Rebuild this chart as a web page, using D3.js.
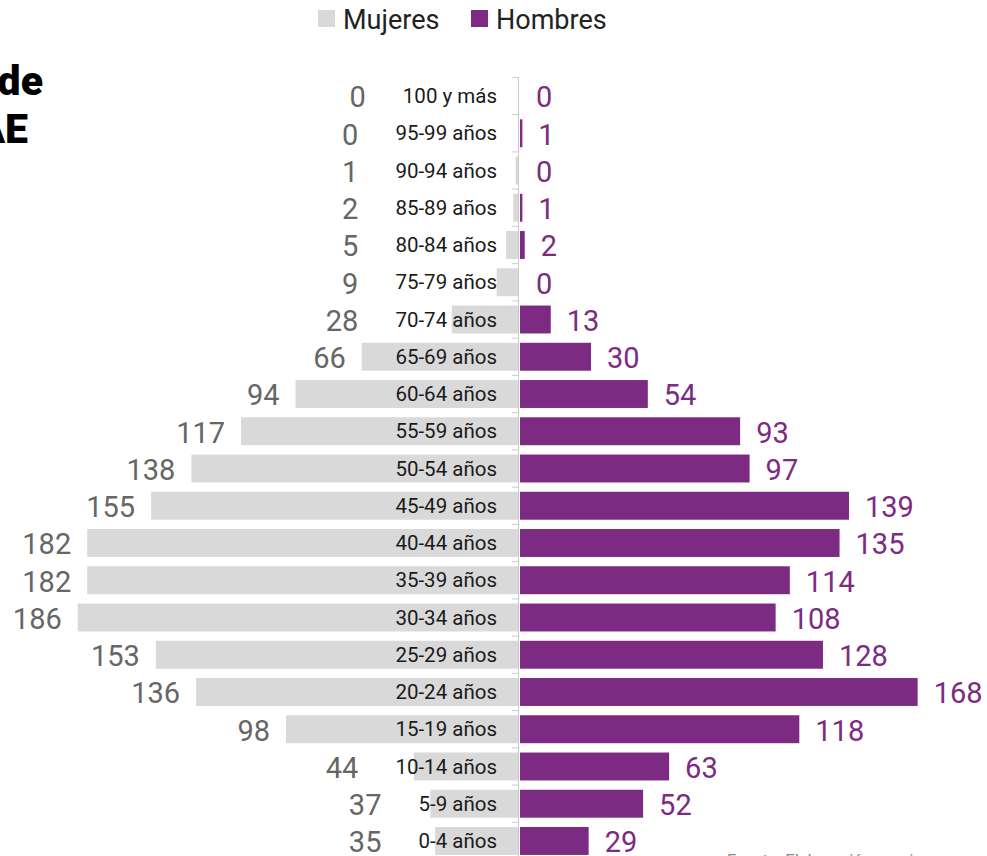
<!DOCTYPE html>
<html>
<head>
<meta charset="utf-8">
<script src="https://cdn.jsdelivr.net/npm/d3@7"></script>
<style>
  body { margin: 0; background: #fff; overflow: hidden; }
  svg { display: block; font-family: Roboto, "Noto Sans", sans-serif; }
</style>
</head>
<body>
<div id="chart"></div>
<script>
// Data
const ages = ["100 y más", "95-99 años", "90-94 años", "85-89 años", "80-84 años",
  "75-79 años", "70-74 años", "65-69 años", "60-64 años", "55-59 años", "50-54 años",
  "45-49 años", "40-44 años", "35-39 años", "30-34 años", "25-29 años", "20-24 años",
  "15-19 años", "10-14 años", "5-9 años", "0-4 años"];
const mujeres = [0, 0, 1, 2, 5, 9, 28, 66, 94, 117, 138, 155, 182, 182, 186, 153, 136, 98, 44, 37, 35];
const hombres = [0, 1, 0, 1, 2, 0, 13, 30, 54, 93, 97, 139, 135, 114, 108, 128, 168, 118, 63, 52, 29];
const series = ["Mujeres", "Hombres"];
const titleLines = ["de", "AE"];

const width = 987, height = 856;
const grey = "#d9d9d9", purple = "#7d2b82";

const svg = d3.select("#chart").append("svg")
  .attr("width", width)
  .attr("height", height);

// Scales
const y = d3.scaleBand()
  .domain(ages)
  .range([77.4, 859.6])
  .paddingInner(0.25)
  .paddingOuter(0.125);

const xF = d3.scaleLinear().domain([0, 200]).range([518, 518 - 473.4]);
const xM = d3.scaleLinear().domain([0, 200]).range([520, 520 + 473.4]);

// Title (cut off at the left edge)
svg.append("g")
  .attr("font-weight", 900)
  .attr("font-size", 41)
  .attr("fill", "#000")
  .attr("text-anchor", "end")
  .selectAll("text")
  .data(titleLines)
  .join("text")
  .attr("x", (d, i) => i === 0 ? 43 : 28)
  .attr("y", (d, i) => 95 + i * 48)
  .text(d => d);

// Legend
const legend = svg.append("g");
const legendX = [318, 471];
series.forEach((s, i) => {
  legend.append("rect")
    .attr("x", legendX[i]).attr("y", 10)
    .attr("width", 17).attr("height", 17)
    .attr("fill", i === 0 ? grey : purple);
  legend.append("text")
    .attr("x", legendX[i] + 25).attr("y", 29)
    .attr("font-size", 27)
    .attr("fill", "#222")
    .text(s);
});

// Female bars
svg.append("g").selectAll("rect")
  .data(ages)
  .join("rect")
  .attr("x", (d, i) => xF(mujeres[i]))
  .attr("y", d => y(d))
  .attr("width", (d, i) => xF(0) - xF(mujeres[i]))
  .attr("height", y.bandwidth())
  .attr("fill", grey);

// Male bars
svg.append("g").selectAll("rect")
  .data(ages)
  .join("rect")
  .attr("x", xM(0))
  .attr("y", d => y(d))
  .attr("width", (d, i) => xM(hombres[i]) - xM(0))
  .attr("height", y.bandwidth())
  .attr("fill", purple);

// Axis line with ticks at band boundaries
const axis = svg.append("g").attr("stroke", "#cccccc").attr("fill", "none");
const step = y.step();
const boundary = d => y(d) - step * y.paddingInner() / 2;
axis.append("line")
  .attr("x1", 518.5).attr("x2", 518.5)
  .attr("y1", boundary(ages[0])).attr("y2", height);
axis.selectAll(".tick")
  .data(ages)
  .join("line")
  .attr("class", "tick")
  .attr("x1", 512).attr("x2", 518.5)
  .attr("y1", boundary)
  .attr("y2", boundary);

// Category labels
const catLabels = svg.append("g")
  .attr("font-size", 20.5)
  .attr("fill", "#1a1a1a")
  .attr("text-anchor", "end")
  .selectAll("text")
  .data(ages)
  .join("text")
  .attr("x", 497)
  .attr("y", d => y(d) + y.bandwidth() / 2)
  .attr("dy", "0.35em")
  .text(d => d);

// left edge of each category label, so small-value labels sit clear of it
const catLeft = catLabels.nodes().map(n => 497 - n.getComputedTextLength());

// Value labels
svg.append("g")
  .attr("font-size", 29)
  .attr("fill", "#666")
  .attr("text-anchor", "end")
  .selectAll("text")
  .data(ages)
  .join("text")
  .attr("x", (d, i) => Math.min(xF(mujeres[i]) - 16, catLeft[i] - 37))
  .attr("y", d => y(d) + y.bandwidth() / 2 + 1)
  .attr("dy", "0.36em")
  .text((d, i) => mujeres[i]);

svg.append("g")
  .attr("font-size", 29)
  .attr("fill", purple)
  .attr("text-anchor", "start")
  .selectAll("text")
  .data(ages)
  .join("text")
  .attr("x", (d, i) => xM(hombres[i]) + 16)
  .attr("y", d => y(d) + y.bandwidth() / 2 + 1)
  .attr("dy", "0.36em")
  .text((d, i) => hombres[i]);

// Source (cut off at the bottom)
svg.append("text")
  .attr("x", 726)
  .attr("y", 866)
  .attr("font-size", 17)
  .attr("font-style", "italic")
  .attr("fill", "#888")
  .text("Fuente: Elaboración propia");
</script>
</body>
</html>
